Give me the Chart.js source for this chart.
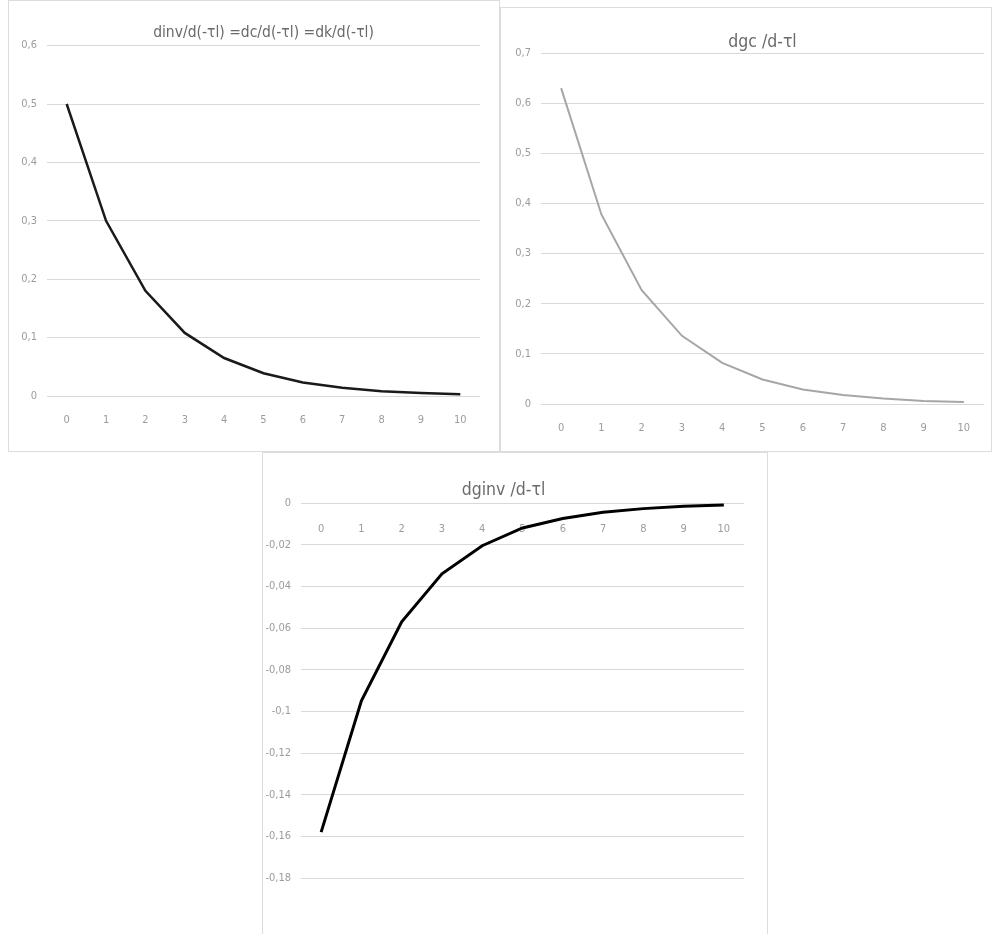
<!DOCTYPE html>
<html>
<head>
<meta charset="utf-8">
<script src="https://cdn.jsdelivr.net/npm/chart.js@4.4.1/dist/chart.umd.min.js"></script>
<style>
  body { margin: 0; background: #fff; width: 997px; height: 934px; position: relative; overflow: hidden; }
  .panel { position: absolute; box-sizing: border-box; border: 1px solid #dcdcdc; background: #fff; }
  .panel .inner { position: absolute; left: 0; top: 0; width: 100%; height: 100%; }
</style>
</head>
<body>
<div class="panel" id="p1" style="left:8px; top:0px; width:492px; height:452px;"><div class="inner"><canvas id="c1"></canvas></div></div>
<div class="panel" id="p2" style="left:500px; top:7px; width:492px; height:445px;"><div class="inner"><canvas id="c2"></canvas></div></div>
<div class="panel" id="p3" style="left:262px; top:452px; width:506px; height:490px;"><div class="inner"><canvas id="c3"></canvas></div></div>
<script>
// ================= DATA =================
const categories = ['0', '1', '2', '3', '4', '5', '6', '7', '8', '9', '10'];

// top left: dinv/d(-τl) = dc/d(-τl) = dk/d(-τl)
const dinvTitle = 'dinv/d(-τl) =dc/d(-τl) =dk/d(-τl)';
const dinvValues = [0.5, 0.3, 0.18, 0.108, 0.065, 0.039, 0.023, 0.014, 0.008, 0.005, 0.003];
const dinvAxis = [0, 0.6, 0.1]; // min, max, step

// top right: dgc /d-τl
const dgcTitle = 'dgc /d-τl';
const dgcValues = [0.63, 0.378, 0.227, 0.136, 0.082, 0.049, 0.029, 0.018, 0.011, 0.006, 0.004];
const dgcAxis = [0, 0.7, 0.1];

// bottom: dginv /d-τl
const dginvTitle = 'dginv /d-τl';
const dginvValues = [-0.158, -0.095, -0.057, -0.034, -0.0205, -0.012, -0.0074, -0.0044, -0.0027, -0.0016, -0.001];
const dginvAxis = [-0.18, 0, 0.02];

// ================= STYLE =================
const FONT = "'Liberation Sans Narrow', 'DejaVu Sans Condensed', 'Liberation Sans', sans-serif";
const tickColor = '#9c9c9c';
const gridColor = '#d9d9d9';
const titleColor = '#6a6a6a';

// Excel style number: comma as decimal separator
function fmt(v) {
    const r = Math.round(v * 1000) / 1000;
    return String(r).replace('.', ',');
}

function makeChart(canvasId, opts) {
    const ctx = document.getElementById(canvasId).getContext('2d');
    return new Chart(ctx, {
        type: 'line',
        data: {
            labels: categories,
            datasets: [{
                data: opts.values,
                borderColor: opts.color,
                borderWidth: opts.width,
                pointRadius: 0,
                tension: 0,
                fill: false
            }]
        },
        options: {
            responsive: true,
            maintainAspectRatio: false,
            animation: false,
            layout: { padding: opts.padding },
            plugins: {
                legend: { display: false },
                tooltip: { enabled: false },
                title: {
                    display: true,
                    text: opts.title,
                    color: titleColor,
                    fullSize: opts.titleFull,
                    font: { family: FONT, size: opts.titleSize, weight: 'normal' },
                    padding: opts.titlePad
                }
            },
            scales: {
                x: {
                    position: opts.xPos,
                    offset: true,
                    grid: { display: false, drawTicks: false },
                    border: { display: false },
                    ticks: { color: tickColor, font: { family: FONT, size: 11 }, padding: opts.xTickPad, maxRotation: 0, autoSkip: false },
                    afterFit: (s) => { if (opts.xHeight) s.height = opts.xHeight; }
                },
                y: {
                    min: opts.axis[0],
                    max: opts.axis[1],
                    ticks: {
                        stepSize: opts.axis[2],
                        color: tickColor,
                        font: { family: FONT, size: 11 },
                        padding: 10,
                        callback: (v) => fmt(v)
                    },
                    grid: { color: gridColor, drawTicks: false, lineWidth: 1 },
                    border: { display: false },
                    afterFit: (s) => { s.width = opts.yWidth; }
                }
            }
        }
    });
}

// ================= CHARTS =================
makeChart('c1', {
    values: dinvValues, axis: dinvAxis, title: dinvTitle,
    color: '#1a1a1a', width: 2.5, titleSize: 15.5, titleFull: false,
    padding: { left: 0, right: 19, top: 0, bottom: 25 },
    titlePad: { top: 23, bottom: 3 },
    xPos: 'bottom', xHeight: 30, xTickPad: 18, yWidth: 38
});

makeChart('c2', {
    values: dgcValues, axis: dgcAxis, title: dgcTitle,
    color: '#a6a6a6', width: 2, titleSize: 17.5, titleFull: false,
    padding: { left: 0, right: 7, top: 0, bottom: 17 },
    titlePad: { top: 24, bottom: 0 },
    xPos: 'bottom', xHeight: 30, xTickPad: 18, yWidth: 40
});

makeChart('c3', {
    values: dginvValues, axis: dginvAxis, title: dginvTitle,
    color: '#000000', width: 3, titleSize: 17.5, titleFull: true,
    padding: { left: 0, right: 23, top: 0, bottom: 63 },
    titlePad: { top: 27, bottom: 2 },
    xPos: { y: 0 }, xHeight: 0, xTickPad: 20, yWidth: 38
});
</script>
</body>
</html>
